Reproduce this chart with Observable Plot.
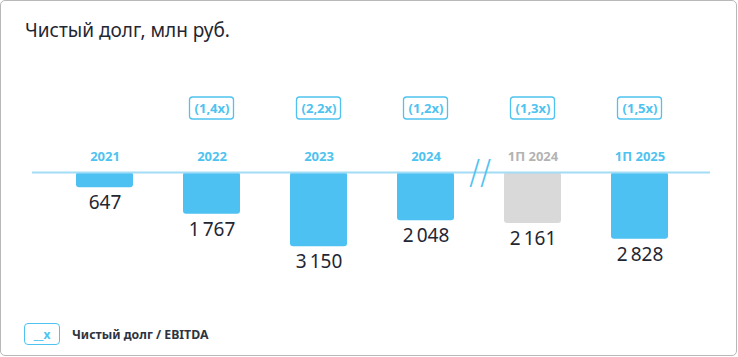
<!DOCTYPE html>
<html>
<head>
<meta charset="utf-8">
<script src="https://cdn.jsdelivr.net/npm/d3@7"></script>
<script src="https://cdn.jsdelivr.net/npm/@observablehq/plot@0.6"></script>
<style>
  html, body { margin: 0; padding: 0; background: #fff; }
  #wrap { position: relative; width: 738px; height: 357px; font-family: "Noto Sans", sans-serif; overflow: hidden; }
  #frame { position: absolute; left: 0; top: 0; width: 735px; height: 354px; border: 1px solid #b8b8b8; border-radius: 5px; }
  #title { position: absolute; left: 25px; top: 17px; font-size: 19px; color: #1f2733; white-space: nowrap; }
  #chart { position: absolute; left: 0; top: 0; }
  #legend { position: absolute; left: 24px; top: 323px; display: flex; align-items: center; }
  #legend .key { box-sizing: border-box; width: 36px; height: 22px; border: 1.3px solid #4fc3f0; border-radius: 4px; color: #4fc3f0; font-weight: bold; font-size: 12px; display: flex; align-items: center; justify-content: center; }
  #legend .txt { margin-left: 12px; font-weight: bold; font-size: 12.3px; color: #2d3440; }
</style>
</head>
<body>
<div id="wrap">
  <div id="frame"></div>
  <div id="title">Чистый долг, млн руб.</div>
  <div id="chart"></div>
  <div id="legend"><div class="key">__x</div><div class="txt">Чистый долг / EBITDA</div></div>
</div>
<script>
const periods = ["2021", "2022", "2023", "2024", "1П 2024", "1П 2025"];
const netDebt = [647, 1767, 3150, 2048, 2161, 2828];
const valueLabels = ["647", "1\u2009767", "3\u2009150", "2\u2009048", "2\u2009161", "2\u2009828"];
const ratioPeriods = ["2022", "2023", "2024", "1П 2024", "1П 2025"];
const ratioLabels = ["(1,4x)", "(2,2x)", "(1,2x)", "(1,3x)", "(1,5x)"];
const comparisonPeriod = "1П 2024";
const breakAfter = "2024";

const BLUE = "#4cc1f2";
const GRAY = "#d9d9d9";

const bars = periods.map((p, i) => ({period: p, value: netDebt[i], label: valueLabels[i]}));
const ratios = ratioPeriods.map((p, i) => ({period: p, ratio: ratioLabels[i]}));

const chart = Plot.plot({
  width: 738,
  height: 357,
  marginTop: 172,
  marginBottom: 0,
  marginLeft: 32,
  marginRight: 28,
  style: {background: "transparent", fontFamily: "Noto Sans, sans-serif"},
  x: {domain: periods, range: [75.5, 669], paddingInner: 0.47, paddingOuter: 0, axis: null},
  y: {domain: [0, 7850], reverse: true, axis: null},
  marks: [
    Plot.barY(bars, {x: "period", y: "value", fill: d => d.period === comparisonPeriod ? GRAY : BLUE, rx: 3}),
    Plot.ruleY([0], {stroke: "#a3dcf5", strokeWidth: 2}),
    Plot.text([{after: breakAfter, mark: "//"}], {x: "after", text: "mark", frameAnchor: "top", lineAnchor: "middle", dx: 54, dy: 1, fontSize: 33, fill: "#4fc3f0", fontFamily: "DejaVu Sans", fontWeight: 300}),
    Plot.text(bars, {x: "period", y: "value", text: "label", lineAnchor: "top", dy: 8, fontSize: 19, fill: "#1f2733"}),
    Plot.text(periods, {x: d => d, text: d => d, frameAnchor: "top", lineAnchor: "middle", dy: -16, fontSize: 13, fontWeight: "bold", fill: d => d === comparisonPeriod ? "#b3b3b3" : "#4fc3f0"}),
    Plot.cell(ratios, {x: "period", insetLeft: 6.5, insetRight: 6.5, insetTop: -75, insetBottom: 238, rx: 3, fill: "#fff", stroke: "#4fc3f0", strokeWidth: 1.3}),
    Plot.text(ratios, {x: "period", text: "ratio", frameAnchor: "top", lineAnchor: "middle", dy: -64, fontSize: 13, fontWeight: "bold", fill: "#4fc3f0"})
  ]
});
document.getElementById("chart").appendChild(chart);
</script>
</body>
</html>
